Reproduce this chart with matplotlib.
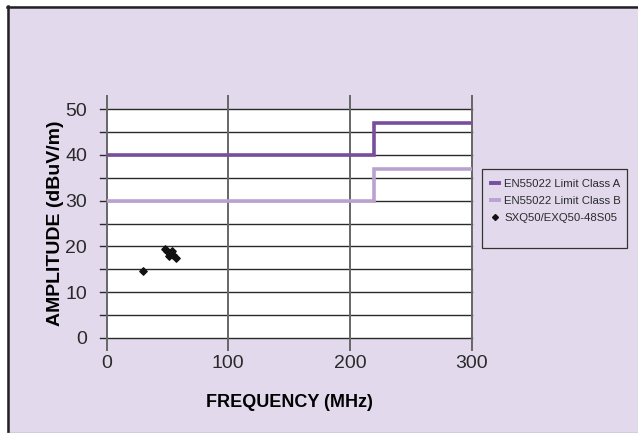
import numpy as np
import matplotlib
matplotlib.use('Agg')
import matplotlib.pyplot as plt
from matplotlib.lines import Line2D

plt.rcParams['font.family'] = ['Liberation Sans', 'DejaVu Sans']

# --- data ---
class_a_freq = [0, 220, 220, 300]
class_a_amp = [40, 40, 47, 47]
class_b_freq = [0, 220, 220, 300]
class_b_amp = [30, 30, 37, 37]
meas_freq = [30, 48, 50, 52, 51, 54, 55, 57]
meas_amp = [14.6, 19.5, 19.0, 18.6, 17.8, 18.9, 18.2, 17.5]

x_ticks = [0, 100, 200, 300]
y_ticks = [0, 10, 20, 30, 40, 50]

BG = '#E2DAEC'
COL_A = '#7A4E9E'
COL_B = '#B9A2D0'

fig = plt.figure(figsize=(6.38, 4.33), dpi=100)
fig.patch.set_facecolor('white')

# lavender panel with dark left/top border
W, H = 638, 433
panel = plt.Rectangle((7 / W, 0), 1 - 7 / W, 1 - 6 / H, transform=fig.transFigure,
                      facecolor=BG, edgecolor='none', zorder=-10)
fig.patches.append(panel)
fig.add_artist(Line2D([7.5 / W, 7.5 / W], [0, 1 - 6 / H], transform=fig.transFigure,
                      color='#222222', lw=1.8))
fig.add_artist(Line2D([7 / W, 1], [1 - 6.5 / H, 1 - 6.5 / H], transform=fig.transFigure,
                      color='#222222', lw=1.8))
fig.add_artist(Line2D([7 / W, 1], [0.5 / H, 0.5 / H], transform=fig.transFigure,
                      color='#999999', lw=1))

ax = fig.add_axes([106.5 / W, 1 - 338 / H, (471.5 - 106.5) / W, (338 - 109) / H])
ax.set_facecolor('white')
ax.set_xlim(0, 300)
ax.set_ylim(0, 50)
for s in ax.spines.values():
    s.set_visible(False)

# horizontal grid every 5, extended a bit to the left as tick marks
for yv in np.arange(0, 51, 5):
    ax.plot([-5, 300], [yv, yv], color='#2a2a2a', lw=1.0, clip_on=False, zorder=1)
# vertical grid lines, extended above and below the plot
for xv in x_ticks:
    ax.plot([xv, xv], [-2.6, 52.8], color='#666666', lw=1.4, clip_on=False, zorder=1)

ax.plot(class_a_freq, class_a_amp, color=COL_A, lw=2.6, zorder=3,
        solid_joinstyle='miter')
ax.plot(class_b_freq, class_b_amp, color=COL_B, lw=2.6, zorder=3,
        solid_joinstyle='miter')
ax.scatter(meas_freq, meas_amp, marker='D', s=14, color='#111111', zorder=4)

ax.set_xticks(x_ticks)
ax.set_yticks(y_ticks)
ax.tick_params(length=0, labelsize=14, colors='#2a2a2a')
ax.tick_params(axis='x', pad=12)
ax.tick_params(axis='y', pad=14)

ax.set_xlabel('FREQUENCY (MHz)', fontsize=13, fontweight='bold', labelpad=16)
ax.set_ylabel('AMPLITUDE (dBuV/m)', fontsize=14, fontweight='bold', labelpad=1)

# legend box drawn by hand, entries placed inside
box = plt.Rectangle((482 / W, 1 - 248 / H), (627 - 482) / W, (248 - 169) / H,
                    transform=fig.transFigure, facecolor=BG, edgecolor='#333333',
                    lw=0.9, zorder=5)
fig.patches.append(box)
handles = [Line2D([], [], color=COL_A, lw=2.8),
           Line2D([], [], color=COL_B, lw=2.8),
           Line2D([], [], color='#111111', marker='D', ms=3, lw=0)]
labels = ['EN55022 Limit Class A', 'EN55022 Limit Class B', 'SXQ50/EXQ50-48S05']
leg = fig.legend(handles, labels, loc='upper left',
                 bbox_to_anchor=(491 / W, 1 - 179 / H), fontsize=8.2,
                 frameon=False, handlelength=0.7, handletextpad=0.45,
                 borderpad=0, borderaxespad=0, labelspacing=0.62)
leg.set_zorder(6)
for t in leg.get_texts():
    t.set_color('#2a2a2a')

fig.savefig('out.png', dpi=100)
